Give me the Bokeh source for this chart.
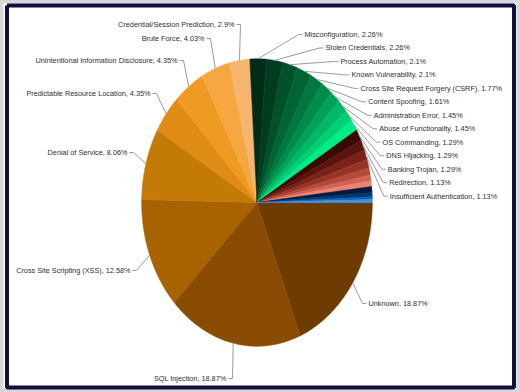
import numpy as np
from bokeh.plotting import figure
from bokeh.models import ColumnDataSource, Range1d
from bokeh.core.properties import value
from bokeh.embed import file_html
from bokeh.resources import INLINE

# ---------------- data ----------------
names = ["Unknown", "SQL Injection", "Cross Site Scripting (XSS)", "Denial of Service",
         "Predictable Resource Location", "Unintentional Information Disclosure",
         "Brute Force", "Credential/Session Prediction", "Misconfiguration",
         "Stolen Credentials", "Process Automation", "Known Vulnerability",
         "Cross Site Request Forgery (CSRF)", "Content Spoofing", "Administration Error",
         "Abuse of Functionality", "OS Commanding", "DNS Hijacking", "Banking Trojan",
         "Redirection", "Insufficient Authentication",
         "", "", "", "", "", "", "", ""]          # small unlabeled slices
percents = [18.87, 18.87, 12.58, 8.06, 4.35, 4.35, 4.03, 2.9, 2.26, 2.26, 2.1, 2.1,
            1.77, 1.61, 1.45, 1.45, 1.29, 1.29, 1.29, 1.13, 1.13,
            0.97, 0.81, 0.65, 0.65, 0.65, 0.48, 0.32, 0.32]
colors = ["#6e3b00", "#8a4c02", "#a86200", "#c47a06", "#de8c16", "#ef9a22", "#f5a742", "#f5b56e",
          "#002b17", "#003d20", "#00502a", "#006434", "#00783f", "#008d4b", "#00a257", "#00b865",
          "#00d074", "#00ea86",
          "#3c0a06", "#5a140e", "#7a2218", "#983426", "#b44a3a", "#d06454", "#ec8274",
          "#001a40", "#003670", "#1060b0", "#3a92ea"]

# ---------------- layout (picture pixels) ----------------
FW, FH = 520, 392
CX, CY = 256.5, 202
RX, RY = 115.3, 143.7
left_side = {1: (226, 378), 2: (130, 270), 3: (127, 152), 4: (150, 93),
             5: (177, 60), 6: (204, 38), 7: (234, 24)}
right_x = [368, 304, 325, 340, 351, 360, 367.7, 373.3, 378.7, 382, 385.7, 387.3, 388.7, 389.3]
right_y = [303] + [34 + 13.47 * k for k in range(13)]
right_idx = [0] + list(range(8, 21))


def to_data(px, py):
    return (px - CX) / RX, (CY - py) / RY


p = figure(width=FW, height=FH, output_backend="svg", toolbar_location=None,
           x_range=Range1d(-CX / RX, (FW - CX) / RX),
           y_range=Range1d(-(FH - CY) / RY, CY / RY),
           min_border=0)
p.axis.visible = False
p.grid.visible = False
p.background_fill_color = "white"
p.border_fill_color = "white"

# frame border
bx0, by0 = to_data(6.5, 5)
bx1, by1 = to_data(513.5, 387)
p.line(x=[bx0, bx1, bx1, bx0, bx0], y=[by0, by0, by1, by1, by0],
       line_color="#10103c", line_width=4)
p.outline_line_color = "#d8d8dc"
p.outline_line_width = 6

vals = np.array(percents)
total = vals.sum()
cum = np.concatenate([[0], np.cumsum(vals)])
t0 = -2 * np.pi * cum[:-1] / total
t1 = -2 * np.pi * cum[1:] / total
mid = (t0 + t1) / 2

xs, ys = [], []
for a, b in zip(t0, t1):
    n = max(3, int(abs(b - a) * 180 / np.pi) + 3)
    th = np.linspace(a, b, n)
    xs.append(np.concatenate([[0], np.cos(th)]).tolist())
    ys.append(np.concatenate([[0], np.sin(th)]).tolist())

p.patches(xs="xs", ys="ys", fill_color="color", line_color="color", line_width=0.6,
          source=ColumnDataSource(dict(xs=xs, ys=ys, color=colors)))

# leader lines and labels
lx, ly = [], []
L = dict(x=[], y=[], text=[])
R = dict(x=[], y=[], text=[])
for i, (tx, ty) in left_side.items():
    ex, ey = np.cos(mid[i]), np.sin(mid[i])
    a = to_data(tx + 2, ty)
    b = to_data(tx + 6, ty)
    lx.append([a[0], b[0], ex]); ly.append([a[1], b[1], ey])
    d = to_data(tx, ty)
    R["x"].append(d[0]); R["y"].append(d[1])
    R["text"].append(f"{names[i]}, {percents[i]:g}%")
for i, tx, ty in zip(right_idx, right_x, right_y):
    ex, ey = np.cos(mid[i]), np.sin(mid[i])
    a = to_data(tx - 2, ty)
    b = to_data(tx - 6, ty)
    lx.append([ex, b[0], a[0]]); ly.append([ey, b[1], a[1]])
    d = to_data(tx, ty)
    L["x"].append(d[0]); L["y"].append(d[1])
    L["text"].append(f"{names[i]}, {percents[i]:g}%")

p.multi_line(xs=lx, ys=ly, line_color="#9a9a9a", line_width=1)
font = value("Liberation Sans")
p.text(x="x", y="y", text="text", source=ColumnDataSource(L), text_align="left",
       text_baseline="middle", text_font=font, text_font_size="7.3px", text_color="#2e2e2e")
p.text(x="x", y="y", text="text", source=ColumnDataSource(R), text_align="right",
       text_baseline="middle", text_font=font, text_font_size="7.3px", text_color="#2e2e2e")

open("out.html", "w").write(file_html(p, INLINE))
